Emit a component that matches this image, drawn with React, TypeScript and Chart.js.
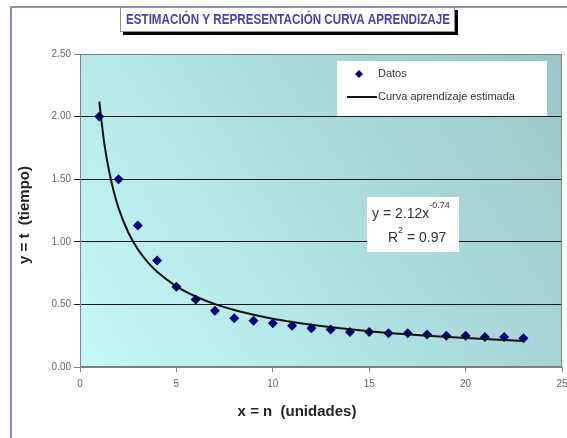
import React, { useEffect, useRef } from 'react';
import { Chart, registerables } from 'chart.js';

Chart.register(...registerables);

const unidades = [1, 2, 3, 4, 5, 6, 7, 8, 9, 10, 11, 12, 13, 14, 15, 16, 17, 18, 19, 20, 21, 22, 23];
const tiempo = [2.0, 1.5, 1.13, 0.85, 0.64, 0.54, 0.45, 0.39, 0.37, 0.35, 0.33, 0.31, 0.3, 0.28, 0.28, 0.27, 0.27, 0.26, 0.25, 0.25, 0.24, 0.24, 0.23];
const curvaX = [1, 1.25, 1.5, 1.75, 2, 2.5, 3, 3.5, 4, 5, 6, 7, 8, 9, 10, 12, 14, 16, 18, 20, 23];
const curvaY = [2.12, 1.797, 1.571, 1.403, 1.269, 1.076, 0.94, 0.839, 0.76, 0.644, 0.563, 0.502, 0.455, 0.417, 0.386, 0.337, 0.301, 0.272, 0.25, 0.231, 0.208];
const titulo = 'ESTIMACIÓN Y REPRESENTACIÓN CURVA APRENDIZAJE';
const ejeX = 'x = n  (unidades)';
const ejeY = 'y = t  (tiempo)';
const serieDatos = 'Datos';
const serieCurva = 'Curva aprendizaje estimada';
const ecuacion = 'y = 2.12x';
const exponente = '-0.74';
const r2 = '0.97';

const FONT = 'Arial, "Liberation Sans", sans-serif';

const decor = {
  id: 'decor',
  beforeDraw(chart: any) {
    const { ctx, chartArea: a, width, height } = chart;
    ctx.save();
    ctx.fillStyle = '#ffffff';
    ctx.fillRect(0, 0, width, height);
    ctx.strokeStyle = '#8f8fc8';
    ctx.lineWidth = 2;
    ctx.beginPath();
    ctx.moveTo(11, height);
    ctx.lineTo(11, 7);
    ctx.lineTo(width, 7);
    ctx.stroke();
    const g = ctx.createLinearGradient(a.left, a.bottom, a.right, a.top);
    g.addColorStop(0, '#c6f8f8');
    g.addColorStop(0.45, '#b0e2e2');
    g.addColorStop(1, '#9cc6c6');
    ctx.fillStyle = g;
    ctx.fillRect(a.left, a.top, a.right - a.left, a.bottom - a.top);
    ctx.restore();
  },
  afterDatasetsDraw(chart: any) {
    const { ctx, chartArea: a } = chart;
    ctx.save();
    ctx.strokeStyle = '#808080';
    ctx.lineWidth = 1;
    ctx.strokeRect(a.left + 0.5, a.top + 0.5, a.right - a.left - 1, a.bottom - a.top - 1);
    ctx.restore();
  },
  afterDraw(chart: any) {
    const { ctx } = chart;
    const ds = chart.data.datasets;
    ctx.save();
    // title box
    ctx.fillStyle = '#000000';
    ctx.fillRect(123, 10, 335, 25);
    ctx.fillStyle = '#ffffff';
    ctx.fillRect(120, 7, 335, 25);
    ctx.strokeStyle = '#9090a0';
    ctx.lineWidth = 1;
    ctx.strokeRect(120.5, 7.5, 334, 24);
    ctx.fillStyle = '#4444b4';
    ctx.font = `bold 14px ${FONT}`;
    ctx.textAlign = 'center';
    ctx.textBaseline = 'middle';
    ctx.fillText(titulo, 288, 20, 324);

    // legend box
    ctx.fillStyle = '#ffffff';
    ctx.fillRect(337, 61, 210, 55);
    ctx.font = `11px ${FONT}`;
    ctx.textAlign = 'left';
    ctx.fillStyle = '#333333';
    ctx.fillText(ds[0].label, 378, 74);
    ctx.fillText(ds[1].label, 378, 97);
    ctx.fillStyle = ds[0].backgroundColor;
    ctx.beginPath();
    ctx.moveTo(359, 70);
    ctx.lineTo(363, 74);
    ctx.lineTo(359, 78);
    ctx.lineTo(355, 74);
    ctx.closePath();
    ctx.fill();
    ctx.strokeStyle = ds[1].borderColor;
    ctx.lineWidth = 2;
    ctx.beginPath();
    ctx.moveTo(347, 97);
    ctx.lineTo(377, 97);
    ctx.stroke();

    // equation box
    ctx.fillStyle = '#ffffff';
    ctx.fillRect(367, 197, 92, 55);
    ctx.fillStyle = '#333333';
    ctx.font = `14px ${FONT}`;
    ctx.textAlign = 'left';
    ctx.fillText(ecuacion, 372, 214);
    const w = ctx.measureText(ecuacion).width;
    ctx.font = `9px ${FONT}`;
    ctx.fillText(exponente, 372 + w, 206);
    ctx.font = `14px ${FONT}`;
    ctx.fillText('R', 388, 238);
    const rw = ctx.measureText('R').width;
    ctx.font = `9px ${FONT}`;
    ctx.fillText('2', 388 + rw, 231);
    ctx.font = `14px ${FONT}`;
    ctx.fillText(' = ' + r2, 388 + rw + 5, 238);

    // axis titles
    ctx.fillStyle = '#222222';
    ctx.font = `bold 15px ${FONT}`;
    ctx.textAlign = 'center';
    ctx.fillText(ejeX, 297, 412);
    ctx.translate(25, 215);
    ctx.rotate(-Math.PI / 2);
    ctx.fillText(ejeY, 0, 0);
    ctx.restore();
  },
};

export default function App() {
  const ref = useRef<HTMLCanvasElement>(null);
  useEffect(() => {
    const chart = new Chart(ref.current!, {
      type: 'scatter',
      data: {
        datasets: [
          {
            label: serieDatos,
            data: unidades.map((x, i) => ({ x, y: tiempo[i] })),
            pointStyle: 'rectRot',
            pointRadius: 5,
            backgroundColor: '#00007a',
            borderColor: '#00007a',
            borderWidth: 0,
            showLine: false,
            order: 1,
          },
          {
            label: serieCurva,
            data: curvaX.map((x, i) => ({ x, y: curvaY[i] })),
            showLine: true,
            pointRadius: 0,
            borderColor: '#111111',
            borderWidth: 2,
            cubicInterpolationMode: 'monotone',
            backgroundColor: '#111111',
            order: 0,
          },
        ],
      },
      options: {
        animation: false,
        responsive: false,
        layout: { padding: { top: 54, right: 2, left: 0, bottom: 0 } },
        plugins: { legend: { display: false }, title: { display: false }, tooltip: { enabled: false } },
        scales: {
          x: {
            type: 'linear',
            min: 0,
            max: 25,
            ticks: { stepSize: 5, color: '#666666', font: { size: 10, family: FONT }, padding: 6, maxRotation: 0 },
            grid: { drawOnChartArea: false, tickLength: 5, color: '#808080' },
            border: { color: '#808080' },
            afterFit: (s: any) => {
              s.paddingRight = 0;
              s.paddingLeft = 0;
              s.height = 71;
            },
          },
          y: {
            min: 0,
            max: 2.5,
            ticks: {
              stepSize: 0.5,
              color: '#666666',
              font: { size: 10, family: FONT },
              padding: 3,
              callback: (v: any) => Number(v).toFixed(2),
            },
            grid: {
              tickLength: 6,
              color: (c: any) => (c.tick && (c.tick.value === 0 || c.tick.value === 2.5) ? '#808080' : '#1a1a1a'),
            },
            border: { color: '#808080' },
            afterFit: (s: any) => {
              s.width = 80;
              s.paddingTop = 0;
              s.paddingBottom = 0;
            },
          },
        },
      },
      plugins: [decor],
    });
    return () => chart.destroy();
  }, []);
  return (
    <div style={{ position: 'fixed', left: 0, top: 0, width: 567, height: 438 }}>
      <canvas ref={ref} width={567} height={438} style={{ display: 'block' }} />
    </div>
  );
}
